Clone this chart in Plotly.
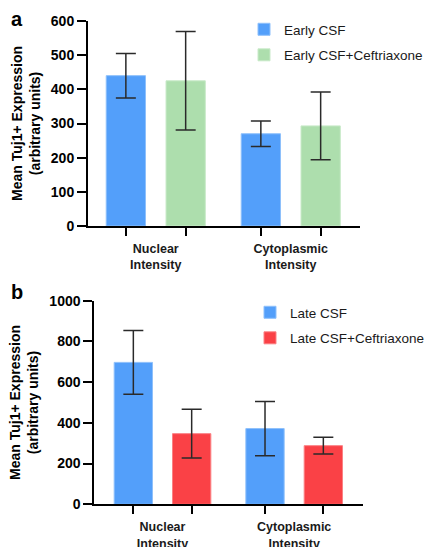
import plotly.graph_objects as go

W, H = 429, 547

categories = ["<b>Nuclear<br>Intensity</b>", "<b>Cytoplasmic<br>Intensity</b>"]

# Panel a
early_csf = [440, 270]
early_csf_err = [65, 37]
early_ceft = [425, 293]
early_ceft_err = [144, 99]

# Panel b
late_csf = [697, 372]
late_csf_err = [157, 133]
late_ceft = [347, 288]
late_ceft_err = [120, 41]

BLUE = "#539FFA"
BLUE_EDGE = "#8EC0FB"
GREEN = "#ADDEAD"
GREEN_EDGE = "#C9EAC9"
RED = "#FA4146"
RED_EDGE = "#FB8184"

BARGAP = 0.114
BARGROUPGAP = 0.343

FONT = "Liberation Sans, Arial, sans-serif"

def px_x(x):
    return x / W

def px_y(y):
    return 1 - y / H

xpos = list(range(len(categories)))
slot = (1 - BARGAP) / 2
minor_ticks = []
for g in xpos:
    minor_ticks += [g - slot / 2, g + slot / 2]

fig = go.Figure()

def err(vals):
    return dict(type="data", array=vals, visible=True, color="#2a2a2a",
                thickness=1.5, width=10)

fig.add_trace(go.Bar(x=xpos, y=early_csf, name="Early CSF", error_y=err(early_csf_err),
                     marker=dict(color=BLUE, line=dict(color=BLUE_EDGE, width=1)),
                     xaxis="x", yaxis="y", legend="legend", legendgroup="a1"))
fig.add_trace(go.Bar(x=xpos, y=early_ceft, name="Early CSF+Ceftriaxone", error_y=err(early_ceft_err),
                     marker=dict(color=GREEN, line=dict(color=GREEN_EDGE, width=1)),
                     xaxis="x", yaxis="y", legend="legend", legendgroup="a2"))
fig.add_trace(go.Bar(x=xpos, y=late_csf, name="Late CSF", error_y=err(late_csf_err),
                     marker=dict(color=BLUE, line=dict(color=BLUE_EDGE, width=1)),
                     xaxis="x2", yaxis="y2", legend="legend2", legendgroup="b1"))
fig.add_trace(go.Bar(x=xpos, y=late_ceft, name="Late CSF+Ceftriaxone", error_y=err(late_ceft_err),
                     marker=dict(color=RED, line=dict(color=RED_EDGE, width=1)),
                     xaxis="x2", yaxis="y2", legend="legend2", legendgroup="b2"))

def xaxis(domain, rng, anchor):
    return dict(domain=domain, range=rng, anchor=anchor, automargin=False,
                tickmode="array", tickvals=xpos, ticktext=categories,
                ticks="outside", ticklen=10, tickcolor="rgba(0,0,0,0)",
                tickfont=dict(family=FONT, size=12.5, color="#1a1a1a"),
                minor=dict(tickmode="array", tickvals=minor_ticks, ticks="outside",
                           ticklen=8, tickwidth=2, tickcolor="black"),
                showline=True, linecolor="black", linewidth=2,
                showgrid=False, zeroline=False, fixedrange=True)

def yaxis(domain, rng, dtick, anchor):
    return dict(domain=domain, range=rng, anchor=anchor, dtick=dtick, tick0=0,
                automargin=False,
                ticks="outside", ticklen=9, tickwidth=2, tickcolor="black",
                tickfont=dict(family=FONT, size=14, color="black"),
                tickprefix="<b>", ticksuffix="</b>",
                showline=True, linecolor="black", linewidth=2,
                showgrid=False, zeroline=False,
                title=dict(text="<b>Mean Tuj1+ Expression<br>(arbitrary units)</b>",
                           font=dict(family=FONT, size=14, color="black"), standoff=7))

legend_common = dict(font=dict(family=FONT, size=13.5, color="#1a1a1a"),
                     bgcolor="rgba(0,0,0,0)", traceorder="grouped", tracegroupgap=5,
                     xanchor="left", yanchor="top")

fig.update_layout(
    width=W, height=H,
    margin=dict(l=0, r=0, t=0, b=0),
    paper_bgcolor="white", plot_bgcolor="white",
    barmode="group", bargap=BARGAP, bargroupgap=BARGROUPGAP,
    xaxis=xaxis([px_x(88), px_x(360)], [-0.502, 1.513], "y"),
    yaxis=yaxis([px_y(226), px_y(21)], [0, 600], 100, "x"),
    xaxis2=xaxis([px_x(94.3), px_x(363.3)], [-0.518, 1.525], "y2"),
    yaxis2=yaxis([px_y(504.3), px_y(300.7)], [0, 1000], 200, "x2"),
    legend=dict(x=px_x(244), y=px_y(14), **legend_common),
    legend2=dict(x=px_x(250), y=px_y(297), **legend_common),
    showlegend=True,
    annotations=[
        dict(text="<b>a</b>", x=px_x(17), y=px_y(27), xref="paper", yref="paper",
             xanchor="center", yanchor="bottom", showarrow=False,
             font=dict(family=FONT, size=20, color="black"), yshift=-5),
        dict(text="<b>b</b>", x=px_x(17), y=px_y(300), xref="paper", yref="paper",
             xanchor="center", yanchor="bottom", showarrow=False,
             font=dict(family=FONT, size=20, color="black"), yshift=-5),
    ],
)

fig.write_html("out.html", config={"displayModeBar": False},
               post_script="document.body.style.margin='0';document.body.style.overflow='hidden';")
